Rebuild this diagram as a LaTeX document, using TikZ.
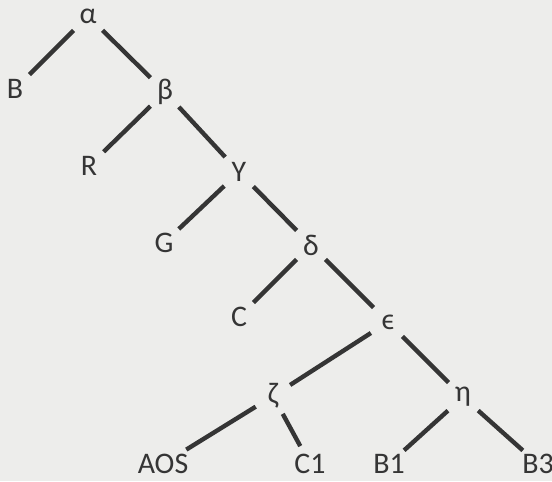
\documentclass[tikz,border=0pt]{standalone}
\usepackage{fontspec}
\setmainfont{Carlito}
\usepackage{tikz}
\usetikzlibrary{positioning}
\usepackage{xcolor}
\definecolor{paper}{HTML}{EDEDEB}
\definecolor{ink}{HTML}{353535}

\tikzset{
	lab/.style={circle,inner sep=0pt,minimum size=0.8cm,text=ink,
		font=\fontsize{17}{20}\selectfont},
	edge/.style={draw=ink,line width=2.5pt}
}

\begin{document}
\begin{tikzpicture}[scale=1]
		
		\fill[paper] (0,0) rectangle (11.04,9.62);
		\useasboundingbox (0,0) rectangle (11.04,9.62);
		
		\node[lab] (al) at (1.76,9.30) {α};
		\node[lab] (B) at (0.30,7.84) {B};
		\node[lab] (be) at (3.30,7.78) {β};
		\node[lab] (R) at (1.78,6.30) {R};
		\node[lab] (Y) at (4.78,6.18) {Y};
		\node[lab] (G) at (3.28,4.76) {G};
		\node[lab] (de) at (6.22,4.72) {δ};
		\node[lab] (C) at (4.78,3.28) {C};
		\node[lab] (ep) at (7.76,3.18) {ϵ};
		\node[lab] (ze) at (5.46,1.70) {ζ};
		\node[lab] (et) at (9.26,1.68) {η};
		
		\node[lab] (AOS) at (3.26,0.34) {AOS};
		\node[lab] (C1) at (6.20,0.34) {C1};
		\node[lab] (B1) at (7.78,0.34) {B1};
		\node[lab] (B3) at (10.76,0.34) {B3};
		
		\draw[edge] (al)--(B);
		\draw[edge] (al)--(be);
		\draw[edge] (be)--(R);
		\draw[edge] (be)--(Y);
		\draw[edge] (Y)--(G);
		\draw[edge] (Y)--(de);
		\draw[edge] (de)--(C);
		\draw[edge] (de)--(ep);
		\draw[edge] (ep)--(ze);
		\draw[edge] (ep)--(et);
		\draw[edge] (ze)--(AOS);
		\draw[edge] (ze)--(C1);
		\draw[edge] (et)--(B1);
		\draw[edge] (et)--(B3);
		
	\end{tikzpicture}
\end{document}
